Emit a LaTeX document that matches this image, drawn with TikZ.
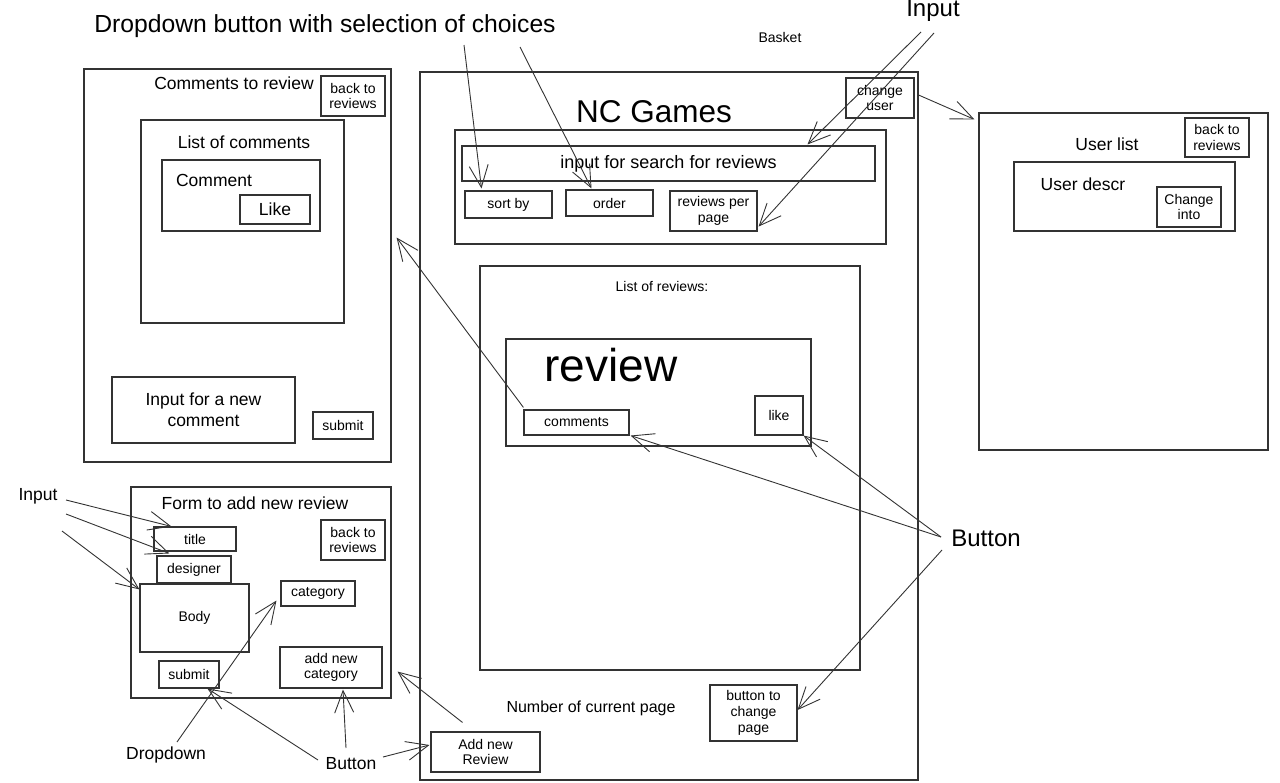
\documentclass[tikz,border=0pt]{standalone}
\usepackage{fontspec}
\setmainfont{Liberation Sans}
\usetikzlibrary{arrows.meta,calc}
\definecolor{lc}{HTML}{333333}
\begin{document}
\begin{tikzpicture}[x=1pt,y=-1pt,
  box/.style={draw=lc, line width=1.1pt, inner sep=0pt, align=center},
  rect/.style args={#1/#2/#3/#4}{minimum width={#3-#1}, minimum height={#4-#2}, at={({(#1+#3)/2},{(#2+#4)/2})}},
  sm/.style={font=\fontsize{14}{15.5}\selectfont},
  md/.style={font=\fontsize{17.5}{21}\selectfont},
  lbl/.style={inner sep=0pt, align=center},
  arr/.style={draw=lc, line width=0.9pt, -{Straight Barb[length=22pt,width=19pt,line width=0.9pt]}}]
\useasboundingbox (0,0) rectangle (1280,782);

% ---------- comments page ----------
\node[box, rect=84/69/391/462] (cmtbox) {};
\node[lbl, md] (cmttitle) at (234,83) {Comments to review};
\node[box, sm, rect=321/76/385/116] (cmtback) {back to\\reviews};
\node[box, rect=141/120/344/323] (cmtlist) {};
\node[lbl, md] (cmtlisttitle) at (244,142) {List of comments};
\node[box, rect=162/160/320/231] (comment) {};
\node[lbl, md] (commenttxt) at (214,180) {Comment};
\node[box, md, rect=240/195/310/224] (like1) {Like};
\node[box, md, rect=112/377/295/443] (newcmt) {Input for a new\\comment};
\node[box, sm, rect=313/412/373/439] (cmtsubmit) {submit};

% ---------- main page ----------
\node[box, rect=420/72/918/780] (main) {};
\node[lbl, font=\fontsize{31.5}{34}\selectfont] (nctitle) at (654,112) {NC Games};
\node[box, sm, rect=846/78/914/118] (changeuser) {change\\user};
\node[box, rect=455/130/886/244] (search) {};
\node[box, font=\fontsize{18}{20}\selectfont, rect=462/146/875/181] (searchin) {input for search for reviews};
\node[box, sm, rect=465/191/552/218] (sortby) {sort by};
\node[box, sm, rect=566/190/653/216] (order) {order};
\node[box, sm, rect=670/191/757/231] (rpp) {reviews per\\page};
\node[box, rect=480/266/860/670] (revlist) {};
\node[lbl, sm] (revlisttitle) at (662,286) {List of reviews:};
\node[box, rect=506/339/811/446] (review) {};
\node[lbl, font=\fontsize{46}{50}\selectfont] (reviewtxt) at (611,365) {review};
\node[box, sm, rect=524/410/629/435] (comments) {comments};
\node[box, sm, rect=755/396/803/435] (like) {like};
\node[lbl, font=\fontsize{16}{18}\selectfont] (curpage) at (591,708) {Number of current page};
\node[box, font=\fontsize{14}{16}\selectfont, rect=710/685/797/741] (changepage) {button to\\change\\page};
\node[box, sm, rect=431/732/540/772] (addreview) {Add new\\Review};
\node[lbl, sm] (basket) at (780,37) {Basket};

% ---------- user list ----------
\node[box, rect=979/113/1268/450] (users) {};
\node[lbl, md] (userstitle) at (1107,144) {User list};
\node[box, sm, rect=1185/118/1249/157] (usersback) {back to\\reviews};
\node[box, rect=1014/162/1235/231] (udescr) {};
\node[lbl, md] (udescrtxt) at (1083,184) {User descr};
\node[box, sm, rect=1157/187/1221/227] (changeinto) {Change\\into};

% ---------- form ----------
\node[box, rect=131/487/391/698] (form) {};
\node[lbl, md] (formtitle) at (255,503) {Form to add new review};
\node[box, sm, rect=154/527/236/551] (ftitle) {title};
\node[box, sm, rect=157/556/231/583] (fdesigner) {designer};
\node[box, sm, rect=140/584/249/652] (fbody) {Body};
\node[box, sm, rect=321/520/385/560] (fback) {back to\\reviews};
\node[box, sm, rect=281/581/355/606] (fcat) {category};
\node[box, sm, rect=159/661/219/688] (fsubmit) {submit};
\node[box, sm, rect=280/647/382/688] (fnewcat) {add new\\category};

% ---------- labels ----------
\node[lbl, font=\fontsize{24.7}{27}\selectfont] (ddlabel) at (325,26) {Dropdown button with selection of choices};
\node[lbl, font=\fontsize{24}{26}\selectfont] (inputtop) at (933,11) {Input};
\node[lbl, font=\fontsize{24}{26}\selectfont] (btnR) at (986,538) {Button};
\node[lbl, md] (inputleft) at (38,496) {Input};
\node[lbl, md] (dropdown) at (166,755) {Dropdown};
\node[lbl, md] (btnB) at (351,764) {Button};

% ---------- arrow tails ----------
\coordinate (dd1) at (464,45);
\coordinate (dd2) at (520,47);
\coordinate (in1) at (921,32);
\coordinate (in2) at (934,33);
\coordinate (b1) at (941,537);
\coordinate (b2) at (942,550);
\coordinate (il1) at (66,500);
\coordinate (il2) at (66,514);
\coordinate (il3) at (62,531);
\coordinate (dr1) at (177,742);
\coordinate (bb1) at (318,760);
\coordinate (bb2) at (346,748);
\coordinate (bb3) at (383,757);

% ---------- arrows ----------
\draw[arr] (dd1) -- ($(sortby.north)+(-27,-2)$);
\draw[arr] (dd2) -- ($(order.north)+(-18,-1)$);
\draw[arr] (in1) -- ($(searchin.north)+(139,-1)$);
\draw[arr] (in2) -- ($(rpp.south east)+(1,-5)$);
\draw[arr] ($(changeuser.east)+(4,-3)$) -- ($(users.north west)+(-4,7)$);
\draw[arr] ($(comments.north west)+(0,-2)$) -- ($(cmtbox.east)+(5,-28)$);
\draw[arr] (b1) -- ($(comments.south east)+(1,0)$);
\draw[arr] (b1) -- (like.south east);
\draw[arr] (b2) -- ($(changepage.east)+(0,-3)$);
\draw[arr] (il1) -- ($(ftitle.north west)+(18,0)$);
\draw[arr] (il2) -- ($(fdesigner.north west)+(13,-2)$);
\draw[arr] (il3) -- ($(fbody.north west)+(0,6)$);
\draw[arr] (dr1) -- ($(fcat.south west)+(-4,-6)$);
\draw[arr] (bb1) -- ($(fsubmit.south west)+(49,0)$);
\draw[arr] (bb2) -- ($(fnewcat.south)+(12,1)$);
\draw[arr] (bb3) -- ($(addreview.west)+(-1,-7)$);
\draw[arr] ($(addreview.north)+(-23,-9)$) -- ($(form.south east)+(6,-27)$);
\end{tikzpicture}
\end{document}
